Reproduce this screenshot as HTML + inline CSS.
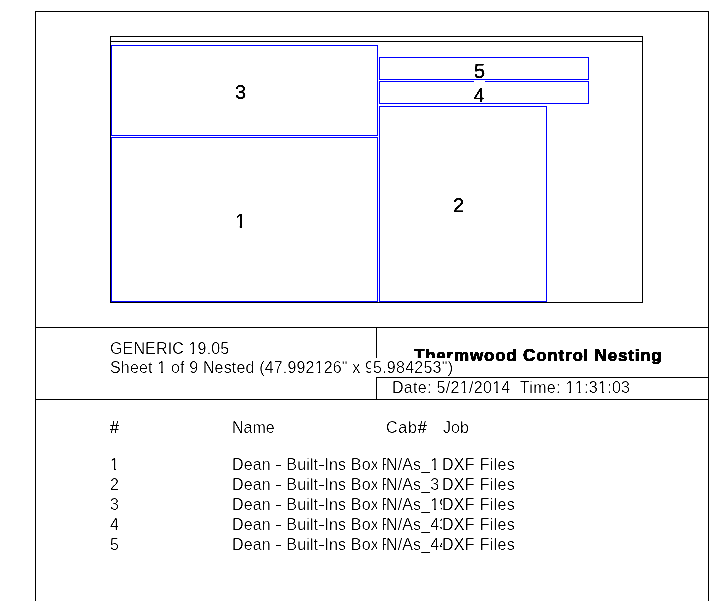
<!DOCTYPE html>
<html>
<head>
<meta charset="utf-8">
<title>Thermwood Control Nesting</title>
<style>
html,body{margin:0;padding:0;background:#fff;}
body{width:724px;height:601px;position:relative;overflow:hidden;font-family:"Liberation Sans",sans-serif;color:#000;}
.l{position:absolute;background:#000;}
.b{position:absolute;border:1px solid #0000ff;box-sizing:border-box;}
.k{position:absolute;border:1px solid #000;box-sizing:border-box;}
.t{position:absolute;white-space:nowrap;font-size:16px;line-height:20px;height:20px;}
.n{position:absolute;white-space:nowrap;font-size:20px;line-height:24px;height:24px;}
.c{overflow:hidden;}
.h{display:inline-block;transform:scaleX(1.45);margin:0 0.4px;}
.o{display:inline-block;clip-path:polygon(0 0,100% 0,100% 13.7px,5.7px 13.7px,5.7px 100%,3.8px 100%,3.8px 13.7px,0 13.7px);}
.n .o{clip-path:polygon(0 0,100% 0,100% 17.4px,7.1px 17.4px,7.1px 100%,4.7px 100%,4.7px 17.4px,0 17.4px);}
.t.p{-webkit-text-stroke:0 #fff;}
#w{position:absolute;left:0;top:0;width:724px;height:601px;background:#fff;filter:url(#thr);}
.t{-webkit-text-stroke:0.25px #fff;}
.n{-webkit-text-stroke:0.15px #000;}
</style>
</head>
<body>
<svg width="0" height="0" style="position:absolute"><defs>
<filter id="thr" x="0" y="0" width="100%" height="100%" color-interpolation-filters="sRGB">
<feColorMatrix type="matrix" values="0.333 0.333 0.334 0 0  0.333 0.333 0.334 0 0  0.333 0.333 0.334 0 0  0 0 0 1 0"/>
<feComponentTransfer><feFuncR type="linear" slope="3" intercept="-1.2"/><feFuncG type="linear" slope="3" intercept="-1.2"/><feFuncB type="linear" slope="3" intercept="-1.2"/></feComponentTransfer>
</filter>
</defs></svg>
<div id="w">
<!-- outer frame -->
<div class="l" style="left:35px;top:11px;width:674px;height:1px"></div>
<div class="l" style="left:35px;top:11px;width:1px;height:590px"></div>
<div class="l" style="left:708px;top:11px;width:1px;height:590px"></div>

<!-- sheet -->
<div class="k" style="left:110px;top:36px;width:533px;height:267px"></div>
<div class="l" style="left:110px;top:41px;width:533px;height:1px"></div>

<!-- parts -->

<!-- part labels -->
<div class="n" style="left:235px;top:80px">3</div>
<div class="n" style="left:235px;top:209px"><span class="o">1</span></div>
<div class="n" style="left:474px;top:59px">5</div>
<div class="n" style="left:473.5px;top:83px">4</div>
<div class="n" style="left:453px;top:193px">2</div>

<!-- title block -->
<div class="l" style="left:35px;top:327px;width:674px;height:1px"></div>
<div class="l" style="left:35px;top:399px;width:674px;height:1px"></div>
<div class="l" style="left:376px;top:327px;width:1px;height:73px"></div>
<div class="l" style="left:376px;top:377px;width:333px;height:1px"></div>

<div class="t" style="left:414px;top:346px;font-weight:bold;font-size:17px;letter-spacing:0.8px;-webkit-text-stroke:0.5px #000">Thermwood Control Nesting</div>

<div class="t" style="left:110px;top:339px;letter-spacing:0.15px">GENERIC <span class="o">1</span>9.05</div>
<div class="t" style="left:110px;top:358px;letter-spacing:0.165px">Sheet <span class="o">1</span> of 9 Nested (47.992<span class="o">1</span>26" x 9</div>
<div style="position:absolute;left:371px;top:358px;width:84px;height:19px;background:#fff"><div class="t" style="left:2px;top:0px;letter-spacing:0.25px">5.984253")</div></div>

<div class="t" style="left:392px;top:378px;letter-spacing:0.31px">Date: 5/2<span class="o">1</span>/20<span class="o">1</span>4&nbsp; Time: <span class="o">1</span><span class="o">1</span>:3<span class="o">1</span>:03</div>

<!-- table header -->
<div class="t p" style="left:110px;top:418px">#</div>
<div class="t" style="left:232px;top:418px">Name</div>
<div class="t" style="left:386px;top:418px;letter-spacing:0.8px">Cab<span style="-webkit-text-stroke:0 #fff">#</span></div>
<div class="t" style="left:443px;top:418px">Job</div>

<!-- rows -->
<div class="t" style="left:110px;top:455px"><span class="o">1</span></div>
<div class="t" style="left:110px;top:475px">2</div>
<div class="t" style="left:110px;top:495px">3</div>
<div class="t" style="left:110px;top:515px">4</div>
<div class="t" style="left:110px;top:535px">5</div>

<div class="t c" style="left:232px;top:455px;width:145px;letter-spacing:0.15px">Dean <span class="h">-</span> Built<span class="h">-</span>Ins Box (</div>
<div class="t c" style="left:232px;top:475px;width:145px;letter-spacing:0.15px">Dean <span class="h">-</span> Built<span class="h">-</span>Ins Box (</div>
<div class="t c" style="left:232px;top:495px;width:145px;letter-spacing:0.15px">Dean <span class="h">-</span> Built<span class="h">-</span>Ins Box (</div>
<div class="t c" style="left:232px;top:515px;width:145px;letter-spacing:0.15px">Dean <span class="h">-</span> Built<span class="h">-</span>Ins Box (</div>
<div class="t c" style="left:232px;top:535px;width:145px;letter-spacing:0.15px">Dean <span class="h">-</span> Built<span class="h">-</span>Ins Box (</div>

<div class="t c" style="left:381.6px;top:455px;width:4.4px">F</div>
<div class="t c" style="left:386px;top:455px;width:56px;letter-spacing:0.12px">N/As_<span class="o">1</span></div>
<div class="t c" style="left:381.6px;top:475px;width:4.4px">F</div>
<div class="t c" style="left:386px;top:475px;width:56px;letter-spacing:0.12px">N/As_3</div>
<div class="t c" style="left:381.6px;top:495px;width:4.4px">F</div>
<div class="t c" style="left:386px;top:495px;width:56px;letter-spacing:0.12px">N/As_<span class="o">1</span>9</div>
<div class="t c" style="left:381.6px;top:515px;width:4.4px">F</div>
<div class="t c" style="left:386px;top:515px;width:56px;letter-spacing:0.12px">N/As_43</div>
<div class="t c" style="left:381.6px;top:535px;width:4.4px">F</div>
<div class="t c" style="left:386px;top:535px;width:56px;letter-spacing:0.12px">N/As_44</div>

<div class="t" style="left:442px;top:455px;letter-spacing:0.3px">DXF Files</div>
<div class="t" style="left:442px;top:475px;letter-spacing:0.3px">DXF Files</div>
<div class="t" style="left:442px;top:495px;letter-spacing:0.3px">DXF Files</div>
<div class="t" style="left:442px;top:515px;letter-spacing:0.3px">DXF Files</div>
<div class="t" style="left:442px;top:535px;letter-spacing:0.3px">DXF Files</div>
</div>
<!-- parts (blue) -->
<div class="b" style="left:379px;top:81px;width:210px;height:23px"></div>
<div class="l" style="left:474px;top:81px;width:11px;height:1px;background:#fff"></div>
<div class="b" style="left:379px;top:57px;width:210px;height:23px"></div>
<div class="b" style="left:111px;top:45px;width:267px;height:91px"></div>
<div class="b" style="left:111px;top:137px;width:267px;height:165px"></div>
<div class="b" style="left:379px;top:106px;width:168px;height:196px"></div>
</body>
</html>
